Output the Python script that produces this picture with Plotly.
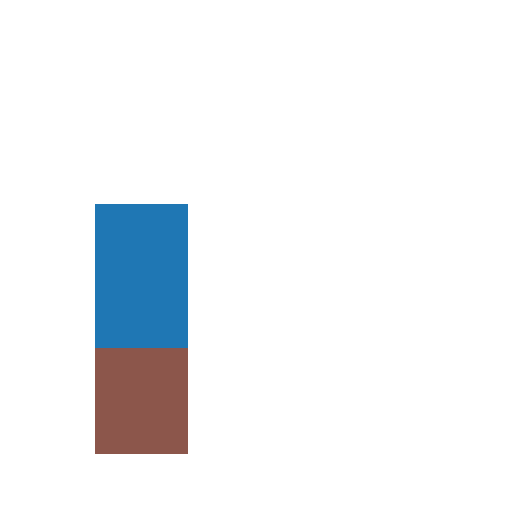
import plotly.graph_objects as go

categories = ["A", "B", "C"]
bottom_values = [26.5, 0, 0]
top_values = [36, 0, 0]

fig = go.Figure()
fig.add_trace(go.Bar(x=[0, 1, 2], y=bottom_values, marker_color="#8c564b",
                     marker_line_width=0, width=0.646, name="bottom"))
fig.add_trace(go.Bar(x=[0, 1, 2], y=top_values, marker_color="#1f77b4",
                     marker_line_width=0, width=0.646, name="top"))

fig.update_layout(
    barmode="stack",
    width=512, height=512,
    margin=dict(l=33, r=47, t=46, b=66),
    paper_bgcolor="white", plot_bgcolor="white",
    showlegend=False,
    xaxis=dict(visible=False, range=[-0.7, 2.3]),
    yaxis=dict(visible=False, range=[0, 100]),
)
fig.write_html("out.html")
